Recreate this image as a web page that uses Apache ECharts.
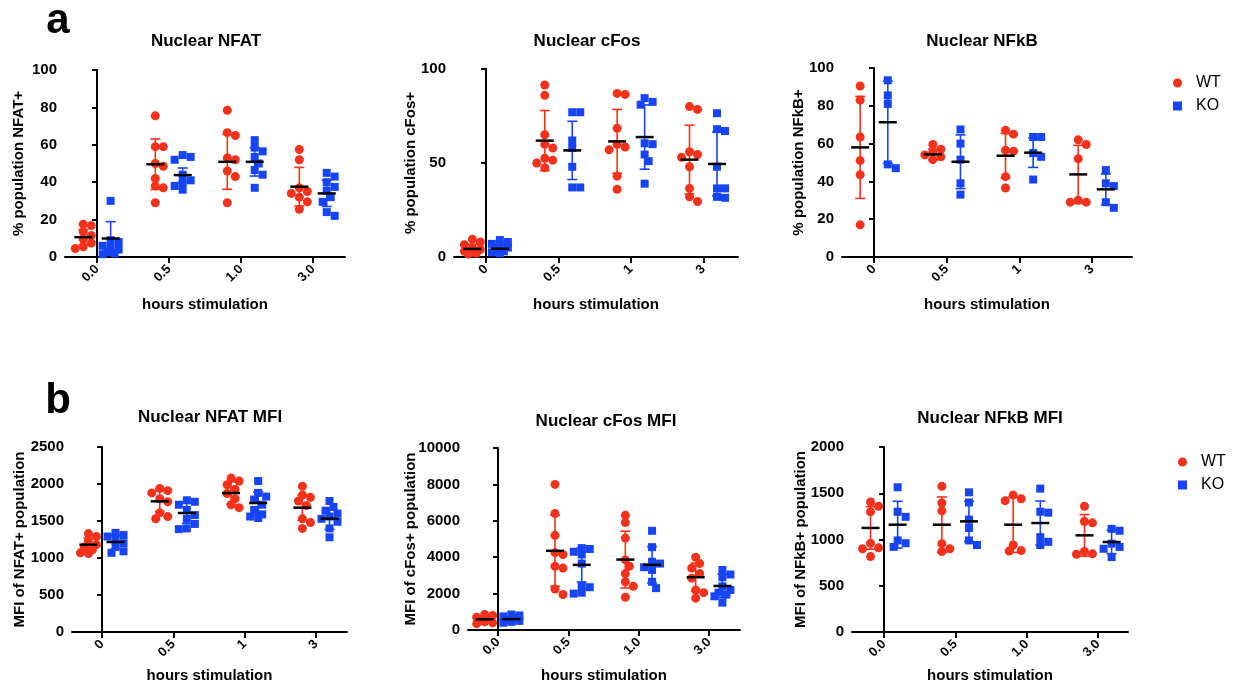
<!DOCTYPE html>
<html><head><meta charset="utf-8">
<script src="https://cdn.jsdelivr.net/npm/echarts@6/dist/echarts.min.js"></script>
<style>html,body{margin:0;padding:0;background:#fff}#c{width:1241px;height:691px}</style>
</head><body><div id="c"></div>
<script>
// ---------- DATA ----------
const groupNames = ['WT', 'KO'];
const xName = 'hours stimulation';
const labelsDotted = ['0.0', '0.5', '1.0', '3.0'];
const labelsPlain = ['0', '0.5', '1', '3'];

// Panel a1: Nuclear NFAT (% population NFAT+)
const nfatWT = [[17.5,16.8,13.5,11.5,9.5,7.5,5.5,4.5],[75.5,59,59,50,48.5,42,38,37,29],[78.5,66.5,65,53,52,46,43,29],[57.5,52,37,35,34,32,29.5,25.5]];
const nfatKO = [[30,9,8,6,5,4,3,2,1.5],[54.5,53.5,52,44,41,40,38,36],[62.5,58.5,56.5,53.5,50,46.5,44,37],[45,43,40,37.5,35.5,32,29.5,24,22]];
const nfatWTMean = [10.6,49.6,50.9,37.6], nfatWTSD = [4,13.5,14.7,10.3];
const nfatKOMean = [9.9,43.8,50.9,34], nfatKOSD = [9,3.8,7.6,7];

// Panel a2: Nuclear cFos (% population cFos+)
const cfosWT = [[9.5,8,6.5,5,4,3,2.5,2,1.5],[91.5,86,65,60,58,52.5,51.5,50,47.5],[86.5,87,68.5,60,58.5,57,43,36],[80,78.5,56,54.5,53,48,36.5,32,29.5]];
const cfosKO = [[9,8,7,6,5,4,3,2.5,2],[77,77,62,58,48,37,37],[84.5,82.5,81,60.5,60,54.5,51,39],[76.5,68,67,48,36.5,36.5,32,31.5]];
const cfosWTMean = [4.3,61.9,61.5,51.8], cfosWTSD = [2.5,16,17,18.3];
const cfosKOMean = [4.4,56.7,63.8,49.5], cfosKOSD = [2.2,15.5,17.1,17];

// Panel a3: Nuclear NFkB (% population NFkB+)
const nfkbWT = [[90.5,83,63.5,51,43.5,17],[59.5,57,55.5,54,53,51.5],[67,65,56.5,56,42.5,36.5],[62,59.5,52,30,29,29]];
const nfkbKO = [[93.5,85.5,81,49,47],[67.5,60,51.5,39,33],[63.5,63.5,55,53,41],[46,39,37.5,29,26]];
const nfkbWTMean = [58,54.3,53.6,43.7], nfkbWTSD = [27,2.8,11.8,15.4];
const nfkbKOMean = [71.3,50.4,55.2,35.8], nfkbKOSD = [21.7,14.2,7.8,8.1];

// Panel b1: Nuclear NFAT MFI
const nfatMfiWT = [[1330,1290,1230,1180,1150,1110,1070,1060],[1940,1910,1880,1800,1760,1610,1560,1530],[2080,2040,1990,1930,1870,1800,1720,1680],[1970,1850,1820,1770,1710,1530,1480,1400]];
const nfatMfiKO = [[1340,1310,1290,1250,1200,1150,1090,1070],[1780,1760,1720,1650,1580,1530,1460,1400,1390],[2040,1880,1830,1790,1720,1650,1590,1560,1540],[1770,1690,1640,1600,1560,1530,1490,1400,1280]];
const nfatMfiWTMean = [1180,1766,1878,1680], nfatMfiWTSD = [90,140,150,170];
const nfatMfiKOMean = [1216,1608,1743,1532], nfatMfiKOSD = [95,140,150,145];

// Panel b2: Nuclear cFos MFI
const cfosMfiWT = [[850,800,700,600,550,450,400,350],[8000,6400,5200,4250,4150,3500,3400,2250,1950],[6300,5900,5050,3850,3500,3100,2650,2400,1800],[4000,3650,3400,3100,2850,2200,2050,1750]];
const cfosMfiKO = [[850,800,750,650,550,500,450,400],[4500,4450,4300,4150,3650,2450,2350,2050,2000],[5450,4550,3750,3650,3450,3300,2650,2300],[3300,3050,2900,2400,2200,2050,1950,1850,1500]];
const cfosMfiWTMean = [590,4350,3870,2900], cfosMfiWTSD = [180,1950,1560,780];
const cfosMfiKOMean = [600,3580,3580,2420], cfosMfiKOSD = [150,950,1000,650];

// Panel b3: Nuclear NFkB MFI
const nfkbMfiWT = [[1405,1360,1300,960,910,900,815],[1575,1395,1310,955,900,870],[1480,1440,1420,940,880,875],[1360,1195,1180,870,845,840]];
const nfkbMfiKO = [[1565,1300,1245,990,960,920],[1510,1400,1215,1125,990,940],[1550,1300,1290,1025,975,940],[1115,1095,955,920,900,810]];
const nfkbMfiWTMean = [1125,1160,1160,1045], nfkbMfiWTSD = [230,300,300,225];
const nfkbMfiKOMean = [1160,1196,1178,973], nfkbMfiKOSD = [253,217,238,126];

// ---------- LAYOUT / STYLE ----------
const RED = '#f4321c', BLUE = '#1744f5';
const FONT = '"Liberation Sans", Arial, sans-serif';
const panels = [
  {title:'Nuclear NFAT', tx:206, ty:41, yName:'% population NFAT+', ymax:100, yint:20, labels:labelsDotted,
   g:{left:65, top:70, width:280, height:187}, xmin:-0.444, xmax:3.444, yGap:39, xGap:40,
   wt:nfatWT, ko:nfatKO, wm:nfatWTMean, ws:nfatWTSD, km:nfatKOMean, ks:nfatKOSD},
  {title:'Nuclear cFos', tx:587, ty:41, yName:'% population cFos+', ymax:100, yint:50, labels:labelsPlain,
   g:{left:454, top:69, width:284, height:188}, xmin:-0.444, xmax:3.48, yGap:36, xGap:40,
   wt:cfosWT, ko:cfosKO, wm:cfosWTMean, ws:cfosWTSD, km:cfosKOMean, ks:cfosKOSD},
  {title:'Nuclear NFkB', tx:982, ty:41, yName:'% population NFkB+', ymax:100, yint:20, labels:labelsPlain,
   g:{left:842, top:68, width:290, height:189}, xmin:-0.44, xmax:3.55, yGap:36, xGap:40,
   wt:nfkbWT, ko:nfkbKO, wm:nfkbWTMean, ws:nfkbWTSD, km:nfkbKOMean, ks:nfkbKOSD},
  {title:'Nuclear NFAT MFI', tx:210, ty:417, yName:'MFI of NFAT+ population', ymax:2500, yint:500, labels:labelsPlain,
   g:{left:72, top:447, width:275, height:185}, xmin:-0.42, xmax:3.435, yGap:45, xGap:36,
   wt:nfatMfiWT, ko:nfatMfiKO, wm:nfatMfiWTMean, ws:nfatMfiWTSD, km:nfatMfiKOMean, ks:nfatMfiKOSD},
  {title:'Nuclear cFos MFI', tx:606, ty:421, yName:'MFI of cFos+ population', ymax:10000, yint:2000, labels:labelsDotted,
   g:{left:468, top:448, width:272, height:182}, xmin:-0.427, xmax:3.44, yGap:50, xGap:38,
   wt:cfosMfiWT, ko:cfosMfiKO, wm:cfosMfiWTMean, ws:cfosMfiWTSD, km:cfosMfiKOMean, ks:cfosMfiKOSD},
  {title:'Nuclear NFkB MFI', tx:990, ty:418, yName:'MFI of NFkB+ population', ymax:2000, yint:500, labels:labelsDotted,
   g:{left:852, top:447, width:276, height:185}, xmin:-0.45, xmax:3.42, yGap:44, xGap:36,
   wt:nfkbMfiWT, ko:nfkbMfiKO, wm:nfkbMfiWTMean, ws:nfkbMfiWTSD, km:nfkbMfiKOMean, ks:nfkbMfiKOSD}
];
const GROUP_OFF = 0.19;

// compact beeswarm-style horizontal spreading (pixel space), returns offsets in x units
function swarm(values, pxPerY, pxPerX) {
  const cands = [0, 4, -4, 8, -8];
  const placed = [];
  const out = new Array(values.length).fill(0);
  const order = values.map((v, i) => i).sort((a, b) => values[b] - values[a]);
  for (const i of order) {
    const py = values[i] * pxPerY;
    let best = 0, bestD = -1;
    for (const c of cands) {
      let dmin = Infinity;
      placed.forEach(p => { dmin = Math.min(dmin, Math.hypot(p[0] - c, p[1] - py)); });
      if (dmin >= 7) { best = c; bestD = dmin; break; }
      if (dmin > bestD + 0.5) { best = c; bestD = dmin; }
    }
    placed.push([best, py]);
    out[i] = best / pxPerX;
  }
  return out;
}

const grid = [], xAxis = [], yAxis = [], series = [], graphic = [];
const axisLineStyle = {color:'#000', width:2};
panels.forEach((p, idx) => {
  grid.push(Object.assign({outerBoundsMode:'none', containLabel:false}, p.g));
  const pxPerX = p.g.width / (p.xmax - p.xmin);
  const pxPerY = p.g.height / p.ymax;
  xAxis.push({
    type:'value', gridIndex:idx, min:p.xmin, max:p.xmax,
    axisLine:{show:true, onZero:false, lineStyle:axisLineStyle},
    axisTick:{show:true, inside:false, length:6, lineStyle:axisLineStyle, customValues:[0,1,2,3]},
    axisLabel:{show:true, rotate:45, margin:10, color:'#000', fontWeight:'bold', fontSize:13, fontFamily:FONT,
      customValues:[0,1,2,3], formatter:(v) => p.labels[Math.round(v)]},
    splitLine:{show:false},
    name:xName, nameLocation:'middle', nameGap:p.xGap, nameMoveOverlap:false,
    nameTextStyle:{color:'#000', fontWeight:'bold', fontSize:15, fontFamily:FONT}
  });
  yAxis.push({
    type:'value', gridIndex:idx, min:0, max:p.ymax, interval:p.yint,
    axisLine:{show:true, lineStyle:axisLineStyle},
    axisTick:{show:true, inside:false, length:5, lineStyle:axisLineStyle},
    axisLabel:{color:'#000', fontWeight:'bold', fontSize:15, fontFamily:FONT, margin:8, formatter:(v) => String(v)},
    splitLine:{show:false},
    name:p.yName, nameLocation:'middle', nameGap:p.yGap, nameRotate:90, nameMoveOverlap:false,
    nameTextStyle:{color:'#000', fontWeight:'bold', fontSize:15, fontFamily:FONT}
  });
  const mk = (groups, off, name, color, symbol, size) => {
    const data = [];
    groups.forEach((vals, gi) => {
      const offs = swarm(vals, pxPerY, pxPerX);
      vals.forEach((v, j) => data.push([gi + off + offs[j], v]));
    });
    series.push({type:'scatter', name, xAxisIndex:idx, yAxisIndex:idx, data, symbol, symbolSize:size,
      itemStyle:{color, opacity:1}, z:2, silent:true});
  };
  mk(p.wt, -GROUP_OFF, 'WT', RED, 'circle', 9);
  mk(p.ko, GROUP_OFF, 'KO', BLUE, 'rect', 8);
  const err = (means, sds, off, color, name) => {
    series.push({type:'custom', name, xAxisIndex:idx, yAxisIndex:idx, z:3, clip:false, silent:true,
      encode:{x:0, y:1},
      data: means.map((m, gi) => [gi + off, m, sds[gi]]),
      renderItem:(params, api) => {
        const x = api.value(0), m = api.value(1), sd = api.value(2);
        const t = api.coord([x, m + sd]), b = api.coord([x, m - sd]), c = api.coord([x, m]);
        const st = {stroke:color, lineWidth:1.6};
        return {type:'group', children:[
          {type:'line', shape:{x1:t[0], y1:t[1], x2:b[0], y2:b[1]}, style:st},
          {type:'line', shape:{x1:t[0]-5, y1:t[1], x2:t[0]+5, y2:t[1]}, style:st},
          {type:'line', shape:{x1:b[0]-5, y1:b[1], x2:b[0]+5, y2:b[1]}, style:st},
          {type:'line', shape:{x1:c[0]-9, y1:c[1], x2:c[0]+9, y2:c[1]}, style:{stroke:'#000', lineWidth:2.5}}
        ]};
      }});
  };
  err(p.wm, p.ws, -GROUP_OFF, RED, 'WT SD');
  err(p.km, p.ks, GROUP_OFF, BLUE, 'KO SD');
  graphic.push({type:'text', x:p.tx, y:p.ty, style:{text:p.title, fill:'#000', font:'bold 17px ' + FONT,
    textAlign:'center', textVerticalAlign:'middle'}});
});
graphic.push({type:'text', x:58, y:21, style:{text:'a', fill:'#000', font:'bold 42px ' + FONT, textAlign:'center', textVerticalAlign:'middle'}});
graphic.push({type:'text', x:58, y:401, style:{text:'b', fill:'#000', font:'bold 42px ' + FONT, textAlign:'center', textVerticalAlign:'middle'}});

const legendBase = {orient:'vertical', itemWidth:9, itemHeight:9, itemGap:7, selectedMode:false,
  data:[{name:'WT', icon:'circle'}, {name:'KO', icon:'rect'}],
  textStyle:{color:'#000', fontSize:16, fontFamily:FONT, padding:[0,0,0,9]}};
const legend = [
  Object.assign({}, legendBase, {left:1168, top:70}),
  Object.assign({}, legendBase, {left:1173, top:449})
];

const chart = echarts.init(document.getElementById('c'), null, {renderer:'canvas'});
chart.setOption({backgroundColor:'#fff', animation:false, grid, xAxis, yAxis, series, graphic, legend});
</script></body></html>
